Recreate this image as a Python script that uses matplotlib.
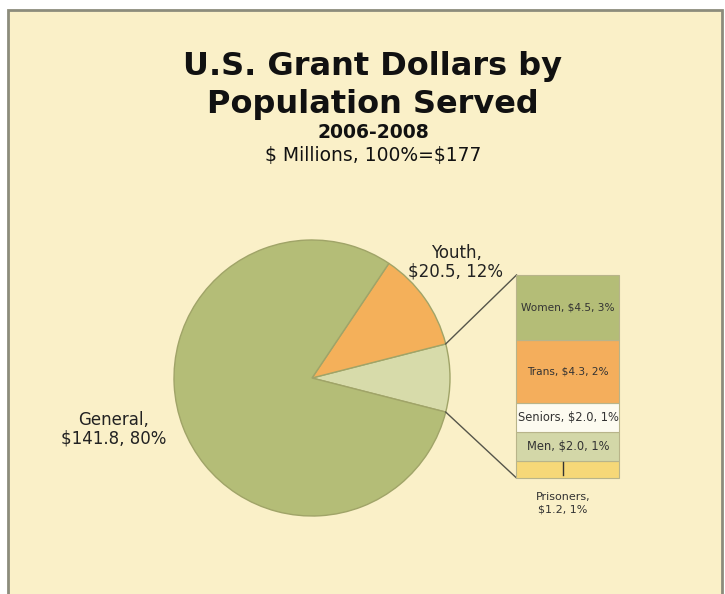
import matplotlib.pyplot as plt
import numpy as np
from matplotlib.patches import Rectangle

plt.rcParams["text.parse_math"] = False

# Grant dollars ($ millions), 2006-2008
pie_labels = ["Other", "Youth", "General"]
pie_values = [14.0, 20.5, 141.8]
pie_pcts = ["", "12%", "80%"]

bar_labels = ["Prisoners", "Men", "Seniors", "Trans", "Women"]
bar_values = [1.2, 2.0, 2.0, 4.3, 4.5]
bar_pcts = ["1%", "1%", "1%", "2%", "3%"]

BG = "#faf0c8"
GREEN = "#b4bd77"
ORANGE = "#f4b05a"
PALE = "#d7dbaa"
bar_colors = ["#f6d878", "#d3d7a8", "#fdfbf0", "#f4ae5c", "#b4bd77"]
label_sizes = [8, 8.3, 8.3, 7.6, 7.6]

W, H = 725, 594
fig = plt.figure(figsize=(W / 100, H / 100), dpi=100)
fig.patch.set_facecolor("white")
ax = fig.add_axes([0, 0, 1, 1])
ax.set_xlim(0, W)
ax.set_ylim(0, H)
ax.set_aspect("equal")
ax.axis("off")

# slide background and frame
ax.add_patch(Rectangle((8, -2), 714, H - 8, facecolor=BG, edgecolor="#8c8c7c", lw=2))

ax.text(373, H - 67, "U.S. Grant Dollars by", ha="center", va="center",
        fontsize=23, fontweight="bold", color="#111111")
ax.text(373, H - 104, "Population Served", ha="center", va="center",
        fontsize=23, fontweight="bold", color="#111111")
ax.text(373, H - 132, "2006-2008", ha="center", va="center",
        fontsize=13.5, fontweight="bold", color="#111111")
ax.text(373, H - 155, "$ Millions, 100%=$177", ha="center", va="center",
        fontsize=13.5, color="#111111")

# pie
cx, cy, r = 312, H - 378, 138
other_ang = pie_values[0] / sum(pie_values) * 360
start = -other_ang / 2
wedges, _ = ax.pie(pie_values, colors=[PALE, ORANGE, GREEN], startangle=start,
                   counterclock=True, center=(cx, cy), radius=r,
                   wedgeprops=dict(edgecolor="#a0a468", linewidth=1.0))
for w in wedges:
    w.set_zorder(2)

ax.text(456, H - 262, "Youth,\n$20.5, 12%", ha="center", va="center",
        fontsize=12, color="#222222", linespacing=1.05)
ax.text(114, H - 429, "General,\n$141.8, 80%", ha="center", va="center",
        fontsize=12, color="#222222", linespacing=1.05)

# breakdown bar for the "Other" slice
bx, bw = 568, 103
scale = 203 / sum(bar_values)
bottom_y = H - 478
bottoms = bottom_y + np.concatenate([[0], np.cumsum(bar_values)[:-1]]) * scale
ax.bar([bx] * len(bar_values), np.array(bar_values) * scale, bottom=bottoms,
       width=bw, color=bar_colors, edgecolor="#b8b48a", linewidth=0.8, zorder=3)

for lab, v, p, b, fs in zip(bar_labels, bar_values, bar_pcts, bottoms, label_sizes):
    if lab == "Prisoners":
        continue
    ax.text(bx, b + v * scale / 2, f"{lab}, ${v:.1f}, {p}", ha="center",
            va="center", fontsize=fs, color="#333333", zorder=4)

# prisoners label below the bar with a short leader
ax.plot([bx - 5, bx - 5], [bottoms[0] + 3, bottoms[0] + 16], color="#333333",
        lw=1, zorder=4)
ax.text(bx - 5, bottom_y - 25, f"Prisoners,\n${bar_values[0]:.1f}, {bar_pcts[0]}",
        ha="center", va="center", fontsize=label_sizes[0], color="#333333",
        linespacing=1.3)

# connectors from slice edges to bar corners
top_y = bottom_y + sum(bar_values) * scale
a1 = np.deg2rad(start + other_ang)
a0 = np.deg2rad(start)
ax.plot([cx + r * np.cos(a1), bx - bw / 2], [cy + r * np.sin(a1), top_y],
        color="#55554a", lw=1, zorder=2)
ax.plot([cx + r * np.cos(a0), bx - bw / 2], [cy + r * np.sin(a0), bottom_y],
        color="#55554a", lw=1, zorder=2)

ax.set_xlim(0, W)
ax.set_ylim(0, H)
fig.savefig("out.png", dpi=100, facecolor="white")
